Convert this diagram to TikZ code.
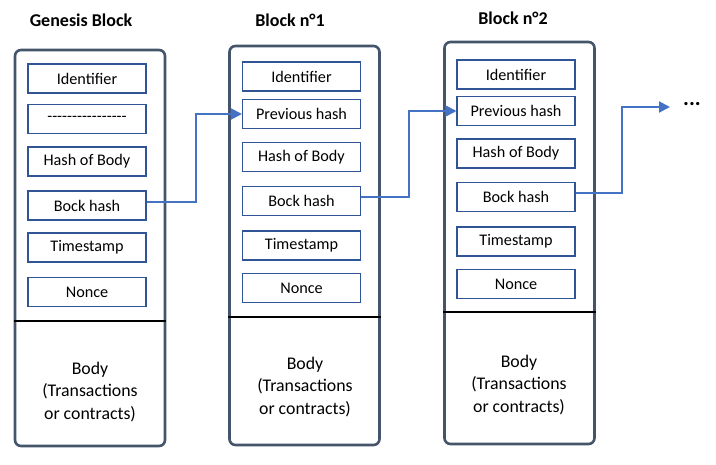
\documentclass[tikz,border=0pt]{standalone}
\usepackage{fontspec}
\setmainfont{Carlito}
\usepackage{tikz}
\usetikzlibrary{arrows.meta}

\definecolor{blockgray}{HTML}{44546A}
\definecolor{fieldblue}{HTML}{2F5597}
\definecolor{linkblue}{HTML}{4472C4}

\newcommand\dashrow{\foreach \i in {1,...,16}{-\kern0pt}}

\begin{document}
\begin{tikzpicture}[x=1pt, y=-1pt,
	block/.style = {rectangle, rounded corners=6pt, draw=blockgray, line width=2.6pt,
		minimum width=150pt, inner sep=0pt},
	field/.style = {rectangle, draw=fieldblue, line width=1.1pt,
		minimum width=118pt, minimum height=29pt, inner sep=0pt,
		font=\fontsize{16.2}{19}\selectfont},
	title/.style = {font=\fontsize{18}{21}\selectfont\bfseries},
	body/.style = {align=center, font=\fontsize{17.8}{22.7}\selectfont},
	divider/.style = {line width=2.6pt, black},
	link/.style = {linkblue, line width=2pt, -{Triangle[length=11pt,width=11pt]}}]
	\useasboundingbox (0,0) rectangle (716,464);

	% genesis block
	\node[title] (gt) at(81,20){Genesis Block};
	\node[block, minimum height=396pt] (g) at(90,248){};
	\node[field] (gid) at(87,78.5){Identifier};
	\node[field] (gprev) at(87,119){\dashrow};
	\node[field] (ghob) at(87,161.5){Hash of Body};
	\node[field] (gbh) at(87,205.5){Bock hash};
	\node[field] (gts) at(87,247.5){Timestamp};
	\node[field] (gno) at(87,292){Nonce};
	\draw[divider] (g.west |- 0,321) -- (g.east |- 0,321);
	\node[body] (gbody) at(90,392){Body\\(Transactions\\or contracts)};

	% block 1
	\node[title] (at) at(290,20){Block n°1};
	\node[block, minimum height=399pt] (a) at(304.5,245.5){};
	\node[field] (aid) at(301.5,76.5){Identifier};
	\node[field] (aprev) at(301.5,114){Previous hash};
	\node[field] (ahob) at(301.5,157){Hash of Body};
	\node[field] (abh) at(301.5,201){Bock hash};
	\node[field] (ats) at(301.5,245.5){Timestamp};
	\node[field] (ano) at(301.5,288){Nonce};
	\draw[divider] (a.west |- 0,317) -- (a.east |- 0,317);
	\node[body] (abody) at(305,387){Body\\(Transactions\\or contracts)};

	% block 2
	\node[title] (bt) at(513,18){Block n°2};
	\node[block, minimum height=402pt] (b) at(519.5,243){};
	\node[field] (bid) at(516,74.5){Identifier};
	\node[field] (bprev) at(516,111){Previous hash};
	\node[field] (bhob) at(516,153.5){Hash of Body};
	\node[field] (bbh) at(516,197){Bock hash};
	\node[field] (bts) at(516,241.5){Timestamp};
	\node[field] (bno) at(516,284){Nonce};
	\draw[divider] (b.west |- 0,312) -- (b.east |- 0,312);
	\node[body] (bbody) at(519,385){Body\\(Transactions\\or contracts)};

	\node[font=\fontsize{22}{24}\selectfont\bfseries] (more) at(692,104){...};
	\coordinate (next) at(670,107);

	\draw[link] ([yshift=4pt]gbh.east) -- ++(49,0) |- (aprev.west);
	\draw[link] ([yshift=4pt]abh.east) -- ++(48,0) |- (bprev.west);
	\draw[link] ([yshift=4pt]bbh.east) -- ++(46,0) |- (next);
\end{tikzpicture}
\end{document}
